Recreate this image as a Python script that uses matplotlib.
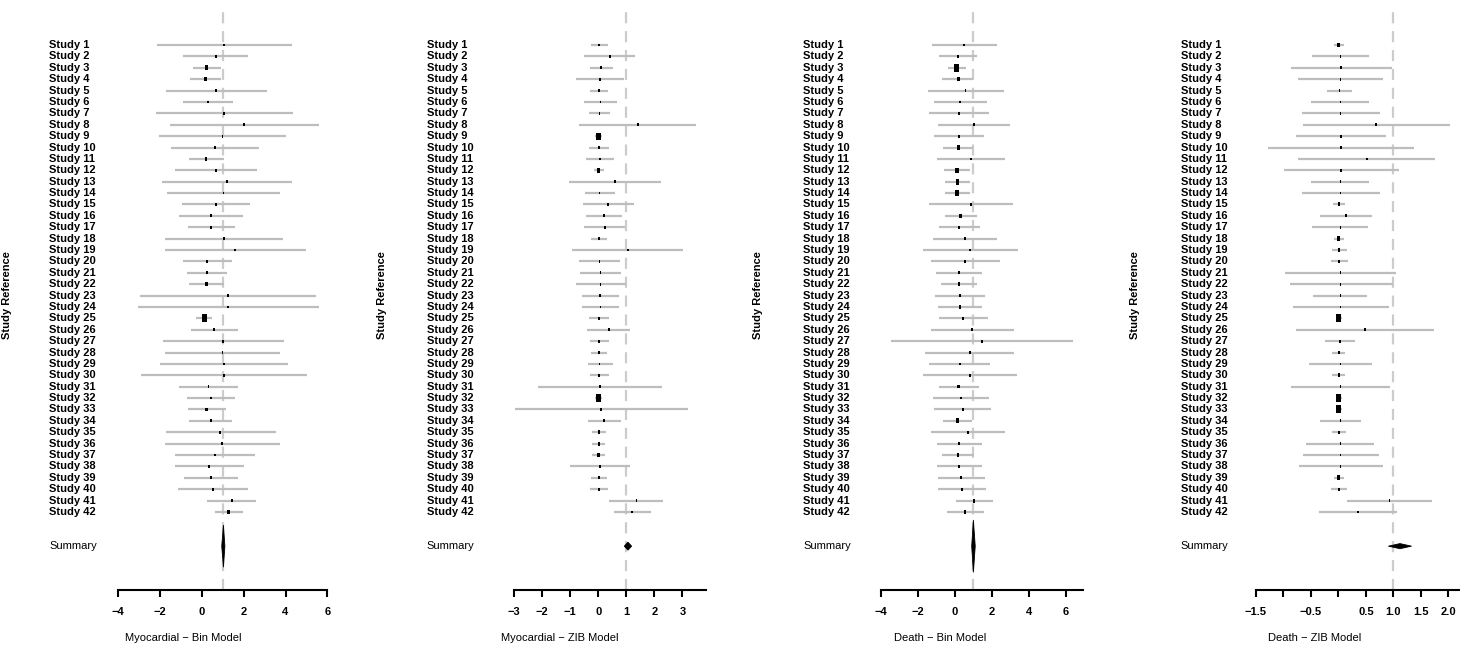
import matplotlib
matplotlib.use("Agg")
import matplotlib.pyplot as plt
from matplotlib.transforms import blended_transform_factory
import numpy as np

plt.rcParams['font.family'] = ['Liberation Sans', 'DejaVu Sans']

studies = ["Study %d" % i for i in range(1, 43)]

# Myocardial - Bin Model
mi_bin_est = [1.07, 0.66, 0.21, 0.18, 0.69, 0.29, 1.07, 2.03, 0.98, 0.63, 0.21, 0.69, 1.19, 1.03,
              0.66, 0.44, 0.44, 1.05, 1.60, 0.26, 0.24, 0.22, 1.25, 1.25, 0.13, 0.59, 1.00, 0.99,
              1.05, 1.04, 0.31, 0.42, 0.22, 0.42, 0.88, 0.96, 0.63, 0.35, 0.42, 0.52, 1.44, 1.28]
mi_bin_lo = [-2.13, -0.89, -0.44, -0.55, -1.73, -0.89, -2.21, -1.54, -2.07, -1.46, -0.62, -1.27, -1.91, -1.67,
             -0.95, -1.10, -0.67, -1.77, -1.77, -0.90, -0.71, -0.62, -2.96, -3.07, -0.28, -0.52, -1.88, -1.77,
             -1.99, -2.90, -1.10, -0.73, -0.67, -0.62, -1.73, -1.78, -1.29, -1.27, -0.87, -1.13, 0.26, 0.63]
mi_bin_hi = [4.30, 2.22, 0.90, 0.93, 3.10, 1.47, 4.37, 5.59, 4.04, 2.75, 1.06, 2.64, 4.30, 3.75,
             2.32, 1.98, 1.57, 3.90, 4.98, 1.43, 1.22, 1.06, 5.46, 5.60, 0.50, 1.71, 3.93, 3.74,
             4.10, 5.01, 1.71, 1.58, 1.14, 1.46, 3.53, 3.74, 2.54, 2.00, 1.74, 2.21, 2.60, 1.98]
mi_bin_summary = [1.03, 0.95, 1.10]

# Myocardial - ZIB Model
mi_zib_est = [0.03, 0.42, 0.11, 0.06, 0.02, 0.08, 0.05, 1.41, 0.01, 0.04, 0.07, 0.02, 0.61, 0.05,
              0.36, 0.21, 0.23, 0.03, 1.05, 0.05, 0.08, 0.08, 0.07, 0.08, 0.04, 0.38, 0.04, 0.02,
              0.05, 0.04, 0.06, 0.01, 0.11, 0.21, 0.02, 0.02, 0.01, 0.06, 0.03, 0.03, 1.36, 1.20]
mi_zib_lo = [-0.27, -0.51, -0.29, -0.79, -0.28, -0.50, -0.32, -0.70, -0.11, -0.32, -0.43, -0.15, -1.03, -0.47,
             -0.55, -0.43, -0.52, -0.25, -0.93, -0.68, -0.64, -0.80, -0.59, -0.58, -0.32, -0.39, -0.29, -0.25,
             -0.37, -0.28, -2.15, -0.11, -2.98, -0.37, -0.22, -0.22, -0.21, -1.01, -0.25, -0.28, 0.39, 0.57]
mi_zib_hi = [0.35, 1.32, 0.52, 0.91, 0.35, 0.66, 0.42, 3.49, 0.15, 0.39, 0.56, 0.22, 2.25, 0.59,
             1.27, 0.84, 0.97, 0.30, 3.01, 0.78, 0.80, 1.00, 0.74, 0.75, 0.40, 1.13, 0.39, 0.30,
             0.51, 0.37, 2.29, 0.12, 3.21, 0.80, 0.27, 0.26, 0.25, 1.12, 0.30, 0.35, 2.32, 1.87]
mi_zib_summary = [1.06, 0.93, 1.19]

# Death - Bin Model
death_bin_est = [0.52, 0.18, 0.11, 0.19, 0.59, 0.30, 0.25, 1.04, 0.23, 0.19, 0.88, 0.12, 0.15, 0.14,
                 0.88, 0.32, 0.23, 0.56, 0.84, 0.57, 0.25, 0.23, 0.28, 0.27, 0.47, 0.95, 1.48, 0.81,
                 0.27, 0.83, 0.21, 0.34, 0.43, 0.15, 0.72, 0.25, 0.18, 0.25, 0.36, 0.40, 1.06, 0.57]
death_bin_lo = [-1.24, -0.83, -0.36, -0.69, -1.44, -1.12, -1.37, -0.89, -1.10, -0.63, -0.96, -0.56, -0.50, -0.50,
                -1.39, -0.52, -0.85, -1.17, -1.71, -1.30, -0.99, -0.74, -1.05, -0.92, -0.85, -1.30, -3.43, -1.61,
                -1.39, -1.71, -0.86, -1.16, -1.10, -0.63, -1.30, -0.96, -0.67, -0.96, -0.90, -0.89, 0.07, -0.40]
death_bin_hi = [2.29, 1.19, 0.59, 1.01, 2.65, 1.73, 1.87, 2.97, 1.57, 1.01, 2.74, 0.81, 0.81, 0.81,
                3.15, 1.19, 1.35, 2.29, 3.41, 2.43, 1.49, 1.22, 1.64, 1.46, 1.78, 3.22, 6.38, 3.23,
                1.93, 3.35, 1.30, 1.87, 1.95, 0.92, 2.74, 1.46, 1.03, 1.48, 1.64, 1.69, 2.05, 1.57]
death_bin_summary = [1.01, 0.92, 1.11]

# Death - ZIB Model
death_zib_est = [0.01, 0.04, 0.05, 0.04, 0.02, 0.04, 0.04, 0.68, 0.05, 0.05, 0.52, 0.05, 0.04, 0.04,
                 0.01, 0.14, 0.04, 0.01, 0.01, 0.01, 0.04, 0.04, 0.04, 0.04, 0.01, 0.49, 0.03, 0.01,
                 0.04, 0.01, 0.04, 0.00, 0.00, 0.04, 0.01, 0.04, 0.04, 0.04, 0.01, 0.01, 0.93, 0.36]
death_zib_lo = [-0.08, -0.48, -0.86, -0.73, -0.20, -0.49, -0.66, -0.65, -0.77, -1.27, -0.73, -0.99, -0.49, -0.66,
                -0.10, -0.33, -0.48, -0.08, -0.12, -0.14, -0.96, -0.88, -0.46, -0.83, -0.05, -0.76, -0.24, -0.11,
                -0.54, -0.11, -0.85, -0.05, -0.05, -0.33, -0.12, -0.58, -0.65, -0.72, -0.08, -0.13, 0.15, -0.35]
death_zib_hi = [0.10, 0.56, 0.97, 0.81, 0.24, 0.55, 0.76, 2.03, 0.87, 1.38, 1.76, 1.10, 0.56, 0.76,
                0.12, 0.61, 0.54, 0.10, 0.15, 0.18, 1.05, 0.99, 0.53, 0.92, 0.06, 1.74, 0.30, 0.12,
                0.62, 0.13, 0.94, 0.06, 0.06, 0.41, 0.14, 0.65, 0.73, 0.81, 0.10, 0.15, 1.71, 1.06]
death_zib_summary = [1.12, 0.91, 1.33]

titles = ["Myocardial \u2212 Bin Model", "Myocardial \u2212 ZIB Model",
          "Death \u2212 Bin Model", "Death \u2212 ZIB Model"]
ticks = [[-4, -2, 0, 2, 4, 6],
         [-3, -2, -1, 0, 1, 2, 3],
         [-4, -2, 0, 2, 4, 6],
         [-1.5, -1.0, -0.5, 0, 0.5, 1.0, 1.5, 2.0]]
tick_labels = [["\u22124", "\u22122", "0", "2", "4", "6"],
               ["\u22123", "\u22122", "\u22121", "0", "1", "2", "3"],
               ["\u22124", "\u22122", "0", "2", "4", "6"],
               ["\u22121.5", "", "\u22120.5", "", "0.5", "1.0", "1.5", "2.0"]]

panels = [(mi_bin_est, mi_bin_lo, mi_bin_hi, mi_bin_summary),
          (mi_zib_est, mi_zib_lo, mi_zib_hi, mi_zib_summary),
          (death_bin_est, death_bin_lo, death_bin_hi, death_bin_summary),
          (death_zib_est, death_zib_lo, death_zib_hi, death_zib_summary)]

# layout (pixels)
W, H = 1460, 646
ax_px = [(118.3, 327.3), (514, 705.7), (880.7, 1082.7), (1255.7, 1460)]
xlims = [(-4, 6), (-3, 3.83), (-4, 6.92), (-1.5, 2.21)]
label_x = [49.3, 426.7, 803.3, 1180.7]
ylab_x = [7, 382, 758, 1135]
xlab_x = [183, 560, 940, 1315]
diamond_h = [3.7, 0.7, 4.6, 0.45]
top_px, bot_px = 10, 590
row0_px, row_step = 45, 11.39
summary_row = 45

fig = plt.figure(figsize=(W / 100, H / 100), dpi=100)

box_marker = [(-0.62, -1), (0.62, -1), (0.62, 1), (-0.62, 1), (-0.62, -1)]

for k, (est, lo, hi, summ) in enumerate(panels):
    x0, x1 = ax_px[k]
    ax = fig.add_axes([x0 / W, 1 - bot_px / H, (x1 - x0) / W, (bot_px - top_px) / H])
    ax.set_xlim(*xlims[k])
    r_top = 1 + (top_px - row0_px) / row_step
    r_bot = 1 + (bot_px - row0_px) / row_step
    ax.set_ylim(r_bot, r_top)

    rows = np.arange(1, len(est) + 1)
    est = np.array(est); lo = np.array(lo); hi = np.array(hi)

    ax.axvline(1, color='#cccccc', lw=1.6, dashes=(5, 3.5), zorder=1)
    ax.hlines(rows, lo, hi, color='#bdbdbd', lw=1.6, zorder=2)

    # box height ~ precision (1 / CI width)
    width = hi - lo
    h_px = np.clip(8.0 * width.min() / width, 2.8, None)
    ax.scatter(est, rows, s=(h_px * 0.72) ** 2, marker=box_marker, color='black',
               linewidths=0, zorder=3)

    m, l, h = summ
    dh = diamond_h[k] / 2
    ax.fill([l, m, h, m], [summary_row, summary_row - dh, summary_row, summary_row + dh],
            color='black', lw=0.6, zorder=3)

    for s in ['top', 'right', 'left']:
        ax.spines[s].set_visible(False)
    ax.spines['bottom'].set_linewidth(1.5)
    ax.spines['bottom'].set_bounds(ticks[k][0], xlims[k][1])
    ax.set_yticks([])
    ax.set_xticks(ticks[k])
    ax.set_xticklabels(tick_labels[k], fontsize=8, fontweight='bold')
    ax.tick_params(axis='x', length=5, width=1.5, pad=7)
    ax.patch.set_visible(False)

    tr = blended_transform_factory(fig.transFigure, ax.transData)
    for r, name in zip(rows, studies):
        fig.text(label_x[k] / W, r, name, transform=tr, fontsize=8, fontweight='bold',
                 ha='left', va='center')
    fig.text(label_x[k] / W, summary_row, "Summary", transform=tr, fontsize=8,
             ha='left', va='center')

    fig.text(ylab_x[k] / W, 1 - 295 / H, "Study Reference", rotation=90, fontsize=8,
             fontweight='bold', ha='center', va='center')
    fig.text(xlab_x[k] / W, 1 - 638 / H, titles[k], fontsize=8, ha='center', va='center')

fig.savefig("out.png", dpi=100)
